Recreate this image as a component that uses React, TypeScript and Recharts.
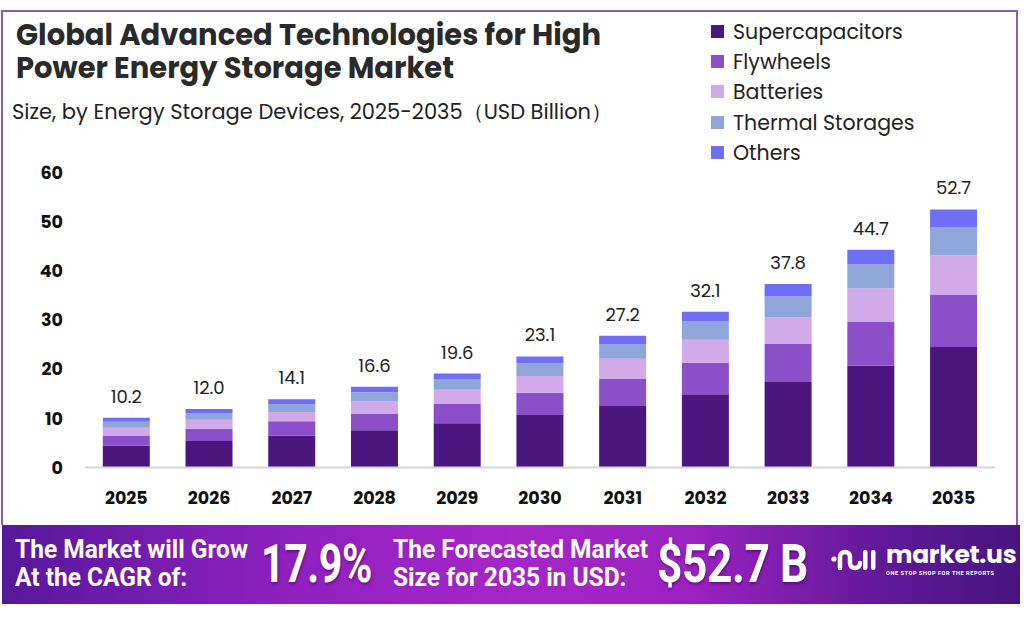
import { BarChart, Bar, XAxis, YAxis, LabelList, Legend } from "recharts"

const YEARS = ["2025", "2026", "2027", "2028", "2029", "2030", "2031", "2032", "2033", "2034", "2035"]
const TOTALS = [10.2, 12.0, 14.1, 16.6, 19.6, 23.1, 27.2, 32.1, 37.8, 44.7, 52.7]
const SUPERCAPACITORS = [4.5, 5.4, 6.5, 7.6, 9.0, 10.7, 12.5, 14.9, 17.4, 20.7, 24.5]
const FLYWHEELS = [2.0, 2.5, 2.9, 3.3, 3.9, 4.5, 5.5, 6.4, 7.7, 8.9, 10.7]
const BATTERIES = [1.6, 1.8, 1.9, 2.5, 2.9, 3.4, 4.1, 4.7, 5.5, 6.8, 7.9]
const THERMAL = [1.2, 1.3, 1.6, 1.9, 2.2, 2.6, 2.9, 3.7, 4.2, 4.9, 5.8]
const OTHERS = [0.8, 0.9, 1.0, 1.1, 1.1, 1.4, 1.8, 2.0, 2.5, 3.0, 3.6]
const Y_TICKS = [0, 10, 20, 30, 40, 50, 60]

const SERIES = [
  { key: "supercapacitors", name: "Supercapacitors", color: "#4b167e" },
  { key: "flywheels", name: "Flywheels", color: "#8b4fc9" },
  { key: "batteries", name: "Batteries", color: "#d2a9e9" },
  { key: "thermal", name: "Thermal Storages", color: "#8fa6da" },
  { key: "others", name: "Others", color: "#6f6ef5" },
]

const data = YEARS.map((year, i) => ({
  year,
  total: TOTALS[i].toFixed(1),
  supercapacitors: SUPERCAPACITORS[i],
  flywheels: FLYWHEELS[i],
  batteries: BATTERIES[i],
  thermal: THERMAL[i],
  others: OTHERS[i],
}))

const FONT = "Poppins, 'Open Sans', sans-serif"
const FOOT_FONT = "Roboto, sans-serif"

function LegendBox() {
  return (
    <div style={{ fontFamily: FONT }}>
      {SERIES.map(s => (
        <div key={s.key} style={{ display: "flex", alignItems: "center", height: 30.3 }}>
          <div style={{ width: 13, height: 13, background: s.color, marginRight: 9 }} />
          <span style={{ fontSize: 20.5, color: "#222" }}>{s.name}</span>
        </div>
      ))}
    </div>
  )
}

function Logo() {
  return (
    <div style={{ position: "absolute", left: 831, top: 544, display: "flex", alignItems: "center" }}>
      <svg width="46" height="26" viewBox="0 0 46 26">
        <circle cx="3" cy="11" r="2.6" fill="#fff" />
        <path d="M9 20 V9 a5 5 0 0 1 10 0 V15 a5 5 0 0 0 10 0" stroke="#fff" strokeWidth="4.5" fill="none" strokeLinecap="round" />
        <rect x="32" y="2" width="4.5" height="20" rx="2.2" fill="#fff" />
        <rect x="40" y="2" width="4.5" height="20" rx="2.2" fill="#fff" />
      </svg>
      <div style={{ marginLeft: 9, color: "#fff" }}>
        <div style={{ fontFamily: "Poppins, Inter, sans-serif", fontWeight: 700, fontSize: 25, lineHeight: "22px", letterSpacing: -0.3 }}>market.us</div>
        <div style={{ fontFamily: FOOT_FONT, fontWeight: 700, fontSize: 5.6, lineHeight: "7px", letterSpacing: 0.55, marginTop: 4 }}>ONE STOP SHOP FOR THE REPORTS</div>
      </div>
    </div>
  )
}

const titleLine = {
  position: "absolute" as const, left: 16, fontFamily: FONT, fontWeight: 700, fontSize: 29, lineHeight: "31px",
  color: "#2a2a2a", whiteSpace: "nowrap" as const,
}
const footSmall = {
  position: "absolute" as const, fontFamily: FOOT_FONT, fontWeight: 700, fontSize: 25, lineHeight: "28px",
  color: "#fff", transform: "scaleX(0.98)", transformOrigin: "left top", whiteSpace: "nowrap" as const,
}
const footBig = {
  position: "absolute" as const, fontFamily: FOOT_FONT, fontWeight: 700, fontSize: 54, lineHeight: "56px",
  color: "#fff", transformOrigin: "left top", whiteSpace: "nowrap" as const,
  letterSpacing: -0.5, textShadow: "1px 2px 3px rgba(40,0,60,0.45)",
}

export default function App() {
  return (
    <div style={{ position: "absolute", left: 0, top: 0, width: 1024, height: 617, background: "#fff", overflow: "hidden" }}>
      <div style={{ position: "absolute", left: 1, top: 10, width: 1013, height: 513, border: "2px solid #8e5bb5", borderBottom: "none" }} />
      <div style={{ ...titleLine, top: 20 }}>Global Advanced Technologies for High</div>
      <div style={{ ...titleLine, top: 53 }}>Power Energy Storage Market</div>
      <div style={{ position: "absolute", left: 12, top: 96, fontFamily: FONT, fontSize: 21, color: "#222", whiteSpace: "nowrap" }}>
        Size, by Energy Storage Devices, 2025-2035（USD Billion）
      </div>

      <div style={{ position: "absolute", left: 0, top: 0 }}>
        <BarChart width={1024} height={617} data={data} margin={{ top: 172.5, right: 29, bottom: 109.5, left: 0 }} barCategoryGap="21.5%">
          <XAxis dataKey="year" height={40} tickLine={false} axisLine={{ stroke: "#d6d6d6", strokeWidth: 2 }} tickMargin={18}
            tick={{ fill: "#111", fontSize: 17.5, fontWeight: 700, fontFamily: FONT }} />
          <YAxis width={85} domain={[0, 60]} ticks={Y_TICKS} tickLine={false} axisLine={false} tickMargin={16}
            tick={{ fill: "#111", fontSize: 17.5, fontWeight: 700, fontFamily: FONT }} />
          <Legend layout="vertical" verticalAlign="middle" align="center" content={<LegendBox />}
            wrapperStyle={{ position: "absolute", left: 711, top: 16, width: 300 }} />
          {SERIES.map((s, i) => (
            <Bar key={s.key} dataKey={s.key} name={s.name} stackId="a" fill={s.color} isAnimationActive={false}>
              {i === SERIES.length - 1 && (
                <LabelList dataKey="total" position="top" offset={15} fill="#222" fontSize={18} fontFamily={FONT} />
              )}
            </Bar>
          ))}
        </BarChart>
      </div>

      <div style={{
        position: "absolute", left: 2, top: 525, width: 1018, height: 79,
        background: "linear-gradient(90deg, #56189a 0%, #8a20bd 25%, #a626c8 50%, #9a22c0 68%, #5c1896 88%, #47157f 100%)",
      }} />
      <div style={{ ...footSmall, left: 15, top: 536 }}>
        The Market will Grow<br />At the CAGR of:
      </div>
      <div style={{ ...footBig, left: 261, top: 536, transform: "scaleX(0.76)" }}>17.9%</div>
      <div style={{ ...footSmall, left: 393, top: 536 }}>
        The Forecasted Market<br />Size for 2035 in USD:
      </div>
      <div style={{ ...footBig, left: 657, top: 536, transform: "scaleX(0.82)" }}>$52.7 B</div>
      <Logo />
    </div>
  )
}
